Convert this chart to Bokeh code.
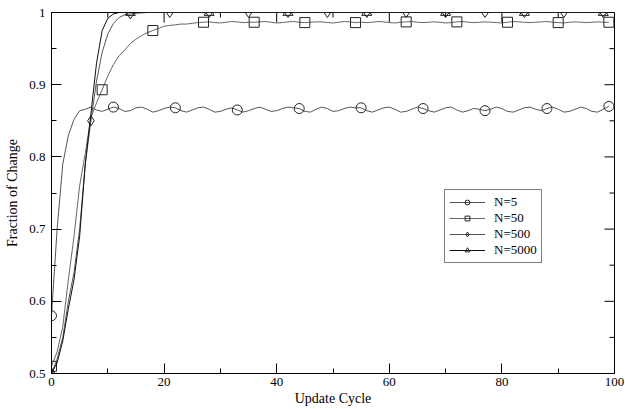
import math
from bokeh.plotting import figure
from bokeh.models import (Range1d, FixedTicker, CustomJSTickFormatter,
                          Legend, LegendItem, ColumnDataSource)
from bokeh.embed import file_html
from bokeh.resources import INLINE

# ---------------- data ----------------
n5 = [0.580, 0.700, 0.790, 0.830, 0.852, 0.864, 0.866, 0.869, 0.865, 0.863,
      0.866, 0.869, 0.867, 0.863, 0.864, 0.868, 0.869, 0.866, 0.862, 0.864,
      0.867, 0.869, 0.868, 0.864, 0.862, 0.865, 0.868, 0.869, 0.866, 0.862,
      0.863, 0.866, 0.868, 0.865, 0.862, 0.864, 0.867, 0.869, 0.866, 0.863,
      0.864, 0.867, 0.869, 0.868, 0.867, 0.863, 0.862, 0.866, 0.869, 0.867,
      0.863, 0.864, 0.867, 0.869, 0.868, 0.868, 0.864, 0.862, 0.865, 0.868,
      0.869, 0.866, 0.862, 0.863, 0.866, 0.869, 0.867, 0.864, 0.862, 0.865,
      0.868, 0.869, 0.865, 0.862, 0.864, 0.867, 0.866, 0.864, 0.866, 0.869,
      0.867, 0.863, 0.862, 0.865, 0.868, 0.869, 0.866, 0.864, 0.867, 0.869,
      0.866, 0.862, 0.863, 0.866, 0.869, 0.867, 0.863, 0.862, 0.866, 0.870]

n50 = [0.510, 0.530, 0.565, 0.630, 0.690, 0.760, 0.805, 0.855, 0.875, 0.893,
       0.912, 0.928, 0.940, 0.948, 0.957, 0.963, 0.968, 0.972, 0.975, 0.978,
       0.981, 0.982, 0.983, 0.984, 0.984, 0.985, 0.986,
       0.9865, 0.9870, 0.9860, 0.9855, 0.9865, 0.9875, 0.9870, 0.9860, 0.9865, 0.9865,
       0.9870, 0.9875, 0.9865, 0.9855, 0.9860, 0.9870, 0.9875, 0.9865, 0.9860, 0.9865,
       0.9870, 0.9870, 0.9860, 0.9855, 0.9865, 0.9875, 0.9870, 0.9860, 0.9865, 0.9860,
       0.9865, 0.9875, 0.9870, 0.9860, 0.9855, 0.9865, 0.9870, 0.9875, 0.9865, 0.9860,
       0.9865, 0.9870, 0.9865, 0.9855, 0.9860, 0.9870, 0.9875, 0.9865, 0.9860, 0.9865,
       0.9870, 0.9865, 0.9860, 0.9855, 0.9865, 0.9875, 0.9870, 0.9865, 0.9860, 0.9865,
       0.9870, 0.9875, 0.9865, 0.9860, 0.9855, 0.9865, 0.9870, 0.9865, 0.9860, 0.9865,
       0.9870, 0.9865, 0.9865]

n500 = [0.500, 0.520, 0.550, 0.600, 0.640, 0.700, 0.790, 0.850, 0.905, 0.945,
        0.970, 0.985, 0.993, 0.997, 0.998, 0.999, 0.9995, 1.0, 1.0, 1.0,
        1.0, 1.0, 1.0, 1.0, 1.0, 1.0, 1.0, 1.0, 1.0, 1.0,
        1.0, 1.0, 1.0, 1.0, 1.0, 1.0, 1.0, 1.0, 1.0, 1.0,
        1.0, 1.0, 1.0, 1.0, 1.0, 1.0, 1.0, 1.0, 1.0, 1.0,
        1.0, 1.0, 1.0, 1.0, 1.0, 1.0, 1.0, 1.0, 1.0, 1.0,
        1.0, 1.0, 1.0, 1.0, 1.0, 1.0, 1.0, 1.0, 1.0, 1.0,
        1.0, 1.0, 1.0, 1.0, 1.0, 1.0, 1.0, 1.0, 1.0, 1.0,
        1.0, 1.0, 1.0, 1.0, 1.0, 1.0, 1.0, 1.0, 1.0, 1.0,
        1.0, 1.0, 1.0, 1.0, 1.0, 1.0, 1.0, 1.0, 1.0, 1.0]

n5000 = [0.500, 0.515, 0.545, 0.590, 0.630, 0.690, 0.790, 0.860, 0.930, 0.975,
         0.992, 0.998, 1.0, 1.0, 1.0, 1.0, 1.0, 1.0, 1.0, 1.0,
         1.0, 1.0, 1.0, 1.0, 1.0, 1.0, 1.0, 1.0, 1.0, 1.0,
         1.0, 1.0, 1.0, 1.0, 1.0, 1.0, 1.0, 1.0, 1.0, 1.0,
         1.0, 1.0, 1.0, 1.0, 1.0, 1.0, 1.0, 1.0, 1.0, 1.0,
         1.0, 1.0, 1.0, 1.0, 1.0, 1.0, 1.0, 1.0, 1.0, 1.0,
         1.0, 1.0, 1.0, 1.0, 1.0, 1.0, 1.0, 1.0, 1.0, 1.0,
         1.0, 1.0, 1.0, 1.0, 1.0, 1.0, 1.0, 1.0, 1.0, 1.0,
         1.0, 1.0, 1.0, 1.0, 1.0, 1.0, 1.0, 1.0, 1.0, 1.0,
         1.0, 1.0, 1.0, 1.0, 1.0, 1.0, 1.0, 1.0, 1.0, 1.0]

labels = ["N=5", "N=50", "N=500", "N=5000"]
markers = ["circle", "square", "diamond", "triangle"]
marker_every = [11, 9, 7, 14]
line_colors = ["#555555", "#666666", "#555555", "#111111"]

x_major = [0, 20, 40, 60, 80, 100]
x_minor = [10, 30, 50, 70, 90]
y_major = [0.5, 0.6, 0.7, 0.8, 0.9, 1.0]
y_minor = [0.55, 0.65, 0.75, 0.85, 0.95]

X_MIN, X_MAX = 0, 100
Y_MIN, Y_MAX = 0.5, 1.0

FONT = "Liberation Serif"

# ---------------- figure ----------------
p = figure(width=625, height=409, output_backend="svg", toolbar_location=None,
           x_range=Range1d(X_MIN, X_MAX), y_range=Range1d(Y_MIN, Y_MAX),
           min_border_left=51, min_border_right=11, min_border_top=12,
           min_border_bottom=36)
p.grid.visible = False
p.outline_line_color = "black"
p.outline_line_width = 1
p.background_fill_color = "white"
p.border_fill_color = "white"

yfmt = CustomJSTickFormatter(code="return Math.abs(tick-1)<1e-9 ? '1' : tick.toFixed(1);")


def style_axis(ax, ticks, minor):
    ax.ticker = FixedTicker(ticks=ticks, minor_ticks=minor)
    ax.major_tick_in = 10
    ax.major_tick_out = 0
    ax.minor_tick_in = 5
    ax.minor_tick_out = 0
    ax.axis_line_color = "black"
    ax.major_tick_line_color = "black"
    ax.minor_tick_line_color = "black"
    ax.major_label_text_font = FONT
    ax.major_label_text_font_size = "13px"
    ax.major_label_text_color = "black"
    ax.axis_label_text_font = FONT
    ax.axis_label_text_font_style = "normal"
    ax.axis_label_text_font_size = "14px"
    ax.axis_label_text_color = "black"


xa = p.xaxis[0]
style_axis(xa, x_major, x_minor)
xa.axis_label = "Update Cycle"
xa.major_label_standoff = 4
xa.axis_label_standoff = 2

ya = p.yaxis[0]
style_axis(ya, y_major, y_minor)
ya.formatter = yfmt
ya.axis_label = "Fraction of Change"
ya.major_label_standoff = 6
ya.axis_label_standoff = 6

# mirrored inward ticks on top and right edges (dash markers clipped by the frame)
p.scatter(x_major, [Y_MAX] * len(x_major), marker="dash", size=20,
          angle=math.pi / 2, line_color="black", line_width=1)
p.scatter(x_minor, [Y_MAX] * len(x_minor), marker="dash", size=10,
          angle=math.pi / 2, line_color="black", line_width=1)
p.scatter([X_MAX] * len(y_major), y_major, marker="dash", size=20,
          line_color="black", line_width=1)
p.scatter([X_MAX] * len(y_minor), y_minor, marker="dash", size=10,
          line_color="black", line_width=1)

items = []
for vals, lab, mk, step, lc in zip([n5, n50, n500, n5000], labels, markers,
                                   marker_every, line_colors):
    xs = list(range(len(vals)))
    src = ColumnDataSource(dict(x=xs, y=vals))
    msrc = ColumnDataSource(dict(x=xs[::step], y=vals[::step]))
    ln = p.line("x", "y", source=src, line_color=lc, line_width=1)
    sc = p.scatter("x", "y", source=msrc, marker=mk, size=10,
                   line_color="#222222", line_width=1, fill_alpha=0)
    items.append(LegendItem(label=lab, renderers=[ln, sc]))

legend = Legend(items=items, location=(393, 110))
legend.border_line_color = "black"
legend.border_line_width = 1
legend.background_fill_color = "white"
legend.background_fill_alpha = 1
legend.label_text_font = FONT
legend.label_text_font_size = "13px"
legend.label_text_color = "black"
legend.glyph_width = 36
legend.glyph_height = 12
legend.label_height = 12
legend.label_standoff = 9
legend.spacing = 0
legend.padding = 4
legend.margin = 0
p.add_layout(legend)

open("out.html", "w").write(file_html(p, INLINE))
